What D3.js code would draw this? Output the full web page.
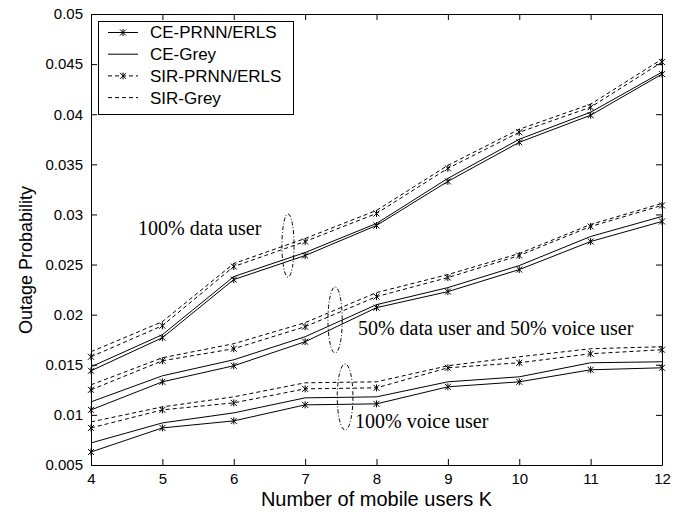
<!DOCTYPE html>
<html>
<head>
<meta charset="utf-8">
<script src="https://cdn.jsdelivr.net/npm/d3@7"></script>
<style>
  body { margin: 0; background: #fff; }
  svg { display: block; }
</style>
</head>
<body>
<svg class="grafico" width="691" height="518"></svg>
<script>
/* datos: número de usuarios K */
const usuariosK = [4, 5, 6, 7, 8, 9, 10, 11, 12]

/* 100% data user */
const datos100_sirGrey = [0.0163, 0.0193, 0.0251, 0.0276, 0.0304, 0.0349, 0.0385, 0.0410, 0.0455]
const datos100_sirPrnn = [0.0158, 0.0189, 0.0248, 0.0273, 0.0301, 0.0346, 0.0382, 0.0407, 0.0452]
const datos100_ceGrey  = [0.0148, 0.0180, 0.0238, 0.0262, 0.0291, 0.0336, 0.0375, 0.0402, 0.0442]
const datos100_cePrnn  = [0.0144, 0.0177, 0.0235, 0.0259, 0.0289, 0.0333, 0.0372, 0.0399, 0.0440]

/* 50% data + 50% voice */
const mixto_sirGrey = [0.0130, 0.0157, 0.0171, 0.0192, 0.0222, 0.0240, 0.0261, 0.0290, 0.0311]
const mixto_sirPrnn = [0.0125, 0.0154, 0.0166, 0.0188, 0.0218, 0.0237, 0.0259, 0.0288, 0.0309]
const mixto_ceGrey  = [0.0113, 0.0139, 0.0155, 0.0178, 0.0210, 0.0227, 0.0249, 0.0278, 0.0298]
const mixto_cePrnn  = [0.0105, 0.0133, 0.0149, 0.0173, 0.0207, 0.0223, 0.0245, 0.0273, 0.0293]

/* 100% voice user */
const voz100_sirGrey = [0.0093, 0.0108, 0.0118, 0.0132, 0.0133, 0.0149, 0.0158, 0.0166, 0.0168]
const voz100_sirPrnn = [0.0087, 0.0105, 0.0112, 0.0126, 0.0127, 0.0147, 0.0152, 0.0161, 0.0165]
const voz100_ceGrey  = [0.0072, 0.0092, 0.0102, 0.0117, 0.0118, 0.0133, 0.0138, 0.0152, 0.0153]
const voz100_cePrnn  = [0.0063, 0.0087, 0.0094, 0.0110, 0.0111, 0.0128, 0.0133, 0.0145, 0.0147]

/* ticks */
const ticksY = [0.005, 0.01, 0.015, 0.02, 0.025, 0.03, 0.035, 0.04, 0.045, 0.05]
const etiquetasY = ['0.005', '0.01', '0.015', '0.02', '0.025', '0.03', '0.035', '0.04', '0.045', '0.05']

/* leyenda */
const nombresLeyenda = ['CE-PRNN/ERLS', 'CE-Grey', 'SIR-PRNN/ERLS', 'SIR-Grey']

/* anotaciones (en unidades de datos) */
const textosNota = ['100% data user', '50% data user and 50% voice user', '100% voice user']
const notaK = [4.66, 7.74, 7.70]
const notaV = [0.0279, 0.0180, 0.0087]
const elipseK = [6.76, 7.42, 7.56]
const elipseV = [0.02690, 0.01947, 0.01179]
const elipseAnchoK = [0.085, 0.1, 0.11]
const elipseAltoV = [0.00315, 0.0033, 0.0033]

/* tipos de línea */
const estilos = {
  cePrnn:  { dash: null,  marca: true },
  ceGrey:  { dash: null,  marca: false },
  sirPrnn: { dash: '4,3', marca: true },
  sirGrey: { dash: '4,3', marca: false }
}

const series = [
  ['cePrnn', datos100_cePrnn], ['ceGrey', datos100_ceGrey], ['sirPrnn', datos100_sirPrnn], ['sirGrey', datos100_sirGrey],
  ['cePrnn', mixto_cePrnn], ['ceGrey', mixto_ceGrey], ['sirPrnn', mixto_sirPrnn], ['sirGrey', mixto_sirGrey],
  ['cePrnn', voz100_cePrnn], ['ceGrey', voz100_ceGrey], ['sirPrnn', voz100_sirPrnn], ['sirGrey', voz100_sirGrey]
].map(([tipo, vals]) => ({ tipo, puntos: vals.map((v, i) => ({ k: usuariosK[i], v })) }))

/* ESCALAS */
const izq = 91, der = 662, arriba = 14, abajo = 465
const x = d3.scaleLinear().domain([4, 12]).range([izq, der])
const y = d3.scaleLinear().domain([0.005, 0.05]).range([abajo, arriba])

const svg = d3.select('.grafico')
const fuente = 'Liberation Sans, Arial, sans-serif'

/* EJES: ticks hacia adentro en los 4 lados */
svg.append('g').attr('transform', `translate(0,${abajo})`)
  .call(d3.axisBottom(x).tickValues(usuariosK).tickFormat(d3.format('d'))
    .tickSizeInner(-6).tickSizeOuter(0).tickPadding(8))
svg.append('g').attr('transform', `translate(0,${arriba})`)
  .call(d3.axisTop(x).tickValues(usuariosK).tickFormat('')
    .tickSizeInner(-6).tickSizeOuter(0))
svg.append('g').attr('transform', `translate(${izq},0)`)
  .call(d3.axisLeft(y).tickValues(ticksY).tickFormat((d, i) => etiquetasY[i])
    .tickSizeInner(-6).tickSizeOuter(0).tickPadding(8))
svg.append('g').attr('transform', `translate(${der},0)`)
  .call(d3.axisRight(y).tickValues(ticksY).tickFormat('')
    .tickSizeInner(-6).tickSizeOuter(0))

svg.selectAll('.domain, .tick line').attr('stroke', '#000').attr('stroke-width', 1)
svg.selectAll('.tick text').attr('font-family', fuente).attr('font-size', 15).attr('fill', '#000')

/* títulos de ejes */
svg.append('text')
  .attr('x', (izq + der) / 2).attr('y', 506)
  .attr('text-anchor', 'middle')
  .attr('font-family', fuente).attr('font-size', 20)
  .text('Number of mobile users K')

svg.append('text')
  .attr('transform', `translate(32,260) rotate(-90)`)
  .attr('text-anchor', 'middle')
  .attr('font-family', fuente).attr('font-size', 18)
  .text('Outage Probability')

/* marca asterisco */
const marca = 'M-3,-3L3,3M-3,3L3,-3M0,-3.5L0,3.5'

/* LÍNEAS */
const linea = d3.line().x(d => x(d.k)).y(d => y(d.v))

const grupos = svg.append('g').selectAll('g')
  .data(series)
  .join('g')

grupos.append('path')
  .attr('d', d => linea(d.puntos))
  .attr('fill', 'none')
  .attr('stroke', '#000')
  .attr('stroke-width', 1)
  .attr('stroke-dasharray', d => estilos[d.tipo].dash)

grupos.filter(d => estilos[d.tipo].marca)
  .selectAll('path.marca')
  .data(d => d.puntos)
  .join('path')
  .attr('class', 'marca')
  .attr('transform', d => `translate(${x(d.k)},${y(d.v)})`)
  .attr('d', marca)
  .attr('stroke', '#000')
  .attr('stroke-width', 1)
  .attr('fill', 'none')

/* ANOTACIONES */
svg.append('g').selectAll('text')
  .data(textosNota)
  .join('text')
  .attr('x', (d, i) => x(notaK[i]))
  .attr('y', (d, i) => y(notaV[i]))
  .attr('font-family', 'Liberation Serif, Times New Roman, serif')
  .attr('font-size', 20)
  .text(d => d)

svg.append('g').selectAll('ellipse')
  .data(elipseK)
  .join('ellipse')
  .attr('cx', d => x(d))
  .attr('cy', (d, i) => y(elipseV[i]))
  .attr('rx', (d, i) => x(d + elipseAnchoK[i]) - x(d))
  .attr('ry', (d, i) => y(elipseV[i]) - y(elipseV[i] + elipseAltoV[i]))
  .attr('fill', 'none')
  .attr('stroke', '#000')
  .attr('stroke-width', 1)
  .attr('stroke-dasharray', '4,2,1,2')

/* LEYENDA */
const leyenda = svg.append('g')
leyenda.append('rect')
  .attr('x', 98.5).attr('y', 21.5).attr('width', 195).attr('height', 93)
  .attr('fill', '#fff').attr('stroke', '#000').attr('stroke-width', 1)

const filas = leyenda.selectAll('g.fila')
  .data(['cePrnn', 'ceGrey', 'sirPrnn', 'sirGrey'])
  .join('g')
  .attr('class', 'fila')
  .attr('transform', (d, i) => `translate(0,${32.5 + i * 21.7})`)

filas.append('line')
  .attr('x1', 108).attr('x2', 138).attr('y1', 0).attr('y2', 0)
  .attr('stroke', '#000').attr('stroke-width', 1)
  .attr('stroke-dasharray', d => estilos[d].dash)

filas.filter(d => estilos[d].marca).append('path')
  .attr('transform', 'translate(123,0)')
  .attr('d', marca)
  .attr('stroke', '#000').attr('fill', 'none')

filas.append('text')
  .attr('x', 150).attr('y', 0).attr('dy', '0.35em')
  .attr('font-family', fuente).attr('font-size', 17)
  .text((d, i) => nombresLeyenda[i])
</script>
</body>
</html>
